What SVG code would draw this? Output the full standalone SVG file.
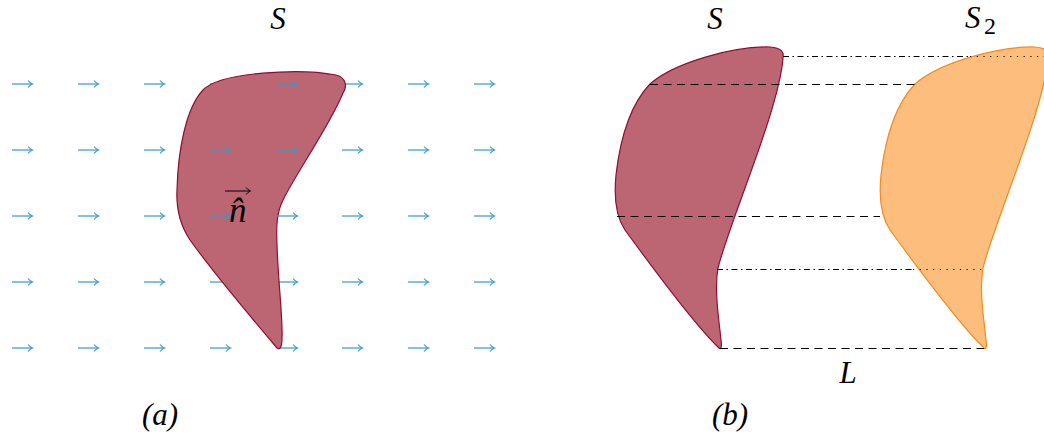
<svg xmlns="http://www.w3.org/2000/svg" xmlns:xlink="http://www.w3.org/1999/xlink" width="1044" height="434" viewBox="0 0 1044 434">
<style>
  .lbl { font-family: "Liberation Serif", "DejaVu Serif", serif; font-style: italic; font-size: 31px; fill: #000; }
  .sub { font-family: "Liberation Serif", "DejaVu Serif", serif; font-size: 24px; fill: #000; }
  .flow { stroke: #3599c8; stroke-width: 1.2; fill: none; }
  .s1 { fill: #bc6673; stroke: #8e0e32; stroke-width: 1.2; }
  .s2 { fill: #fdbd7d; stroke: #f5891c; stroke-width: 1.2; }
  .dash { stroke: #000; stroke-width: 1; fill: none; stroke-dasharray: 8 5.5; }
  .dashdot { stroke: #000; stroke-width: 1; fill: none; stroke-dasharray: 6 3.5 1.5 3.5; }
  .dot { stroke: #000; stroke-width: 1; fill: none; stroke-dasharray: 1.2 5.5; }
</style>
<defs>
  <g id="arr" class="flow">
    <line x1="0" y1="0" x2="20" y2="0"/>
    <path d="M16,-3.5 Q18,-1 20.5,0 Q18,1 16,3.5"/>
  </g>
  <path id="shapeB" d="M 650,84 C 675,62 735,46 770,47 C 782,48 784,52 783,58 C 779,110 730,220 718,268 C 714,290 719,320 721,340 C 722,347 721,350 719,348 C 700,330 660,278 625,230 C 615,215 614,195 616,175 C 620,140 630,105 650,84 Z"/>
</defs>

<!-- (a) flow arrows under the surface -->
<g id="flow-under">
  <use xlink:href="#arr" x="12" y="84"/><use xlink:href="#arr" x="78" y="84"/><use xlink:href="#arr" x="144" y="84"/><use xlink:href="#arr" x="210" y="84"/><use xlink:href="#arr" x="342" y="84"/><use xlink:href="#arr" x="408" y="84"/><use xlink:href="#arr" x="474" y="84"/>
  <use xlink:href="#arr" x="12" y="150"/><use xlink:href="#arr" x="78" y="150"/><use xlink:href="#arr" x="144" y="150"/><use xlink:href="#arr" x="342" y="150"/><use xlink:href="#arr" x="408" y="150"/><use xlink:href="#arr" x="474" y="150"/>
  <use xlink:href="#arr" x="12" y="216"/><use xlink:href="#arr" x="78" y="216"/><use xlink:href="#arr" x="144" y="216"/><use xlink:href="#arr" x="342" y="216"/><use xlink:href="#arr" x="408" y="216"/><use xlink:href="#arr" x="474" y="216"/>
  <use xlink:href="#arr" x="12" y="282"/><use xlink:href="#arr" x="78" y="282"/><use xlink:href="#arr" x="144" y="282"/><use xlink:href="#arr" x="210" y="282"/><use xlink:href="#arr" x="277" y="282"/><use xlink:href="#arr" x="342" y="282"/><use xlink:href="#arr" x="408" y="282"/><use xlink:href="#arr" x="474" y="282"/>
  <use xlink:href="#arr" x="12" y="348"/><use xlink:href="#arr" x="78" y="348"/><use xlink:href="#arr" x="144" y="348"/><use xlink:href="#arr" x="210" y="348"/><use xlink:href="#arr" x="277" y="348"/><use xlink:href="#arr" x="342" y="348"/><use xlink:href="#arr" x="408" y="348"/><use xlink:href="#arr" x="474" y="348"/>
</g>

<g id="surfaceA">
  <path class="s1" d="M 203,90 C 220,72 300,68 336,75 C 347,78 347,87 343,93 C 330,125 295,175 283,200 C 277,212 276,225 277,245 C 278,280 283,320 282,338 C 282,347 280,350 277,348 C 255,322 210,268 190,240 C 180,225 176,210 177,190 C 178,150 186,108 203,90 Z"/>
</g>

<g id="flow-over">
  <use xlink:href="#arr" x="277" y="84"/>
  <use xlink:href="#arr" x="210" y="150"/><use xlink:href="#arr" x="277" y="150"/>
  <use xlink:href="#arr" x="210" y="216"/><use xlink:href="#arr" x="277" y="216"/>
</g>

<g id="normal">
  <line x1="225" y1="191" x2="250" y2="191" stroke="#000" stroke-width="1"/>
  <path d="M246,187.5 Q248,190 250.5,191 Q248,192 246,194.5" stroke="#000" stroke-width="1" fill="none"/>
  <text class="lbl" x="229" y="222" style="font-size:35px">n̂</text>
</g>

<g id="labelSa"><text class="lbl" x="278" y="29" text-anchor="middle">S</text></g>
<g id="labelA"><text class="lbl" x="160" y="425" text-anchor="middle">(a)</text></g>

<!-- (b) -->
<g id="surfaceS"><use xlink:href="#shapeB" class="s1"/></g>
<g id="surfaceS2"><use xlink:href="#shapeB" class="s2" transform="translate(265,0)"/></g>

<g id="connectors">
  <line class="dashdot" x1="783" y1="56.5" x2="970" y2="56.5"/>
  <line class="dot" x1="970" y1="56.5" x2="1044" y2="56.5"/>
  <line class="dash" x1="650" y1="84.5" x2="915" y2="84.5"/>
  <line class="dash" x1="617" y1="216.5" x2="880" y2="216.5"/>
  <line class="dashdot" x1="717" y1="269.5" x2="913" y2="269.5"/>
  <line class="dot" x1="913" y1="269.5" x2="982" y2="269.5"/>
  <line class="dash" x1="720" y1="348.5" x2="984" y2="348.5" stroke="#555"/>
</g>

<g id="labelSb"><text class="lbl" x="715" y="29" text-anchor="middle">S</text></g>
<g id="labelS2"><text class="lbl" x="965" y="28">S</text><text class="sub" x="984" y="34">2</text></g>
<g id="labelL"><text class="lbl" x="848" y="383" text-anchor="middle">L</text></g>
<g id="labelB"><text class="lbl" x="730" y="425" text-anchor="middle">(b)</text></g>
</svg>
